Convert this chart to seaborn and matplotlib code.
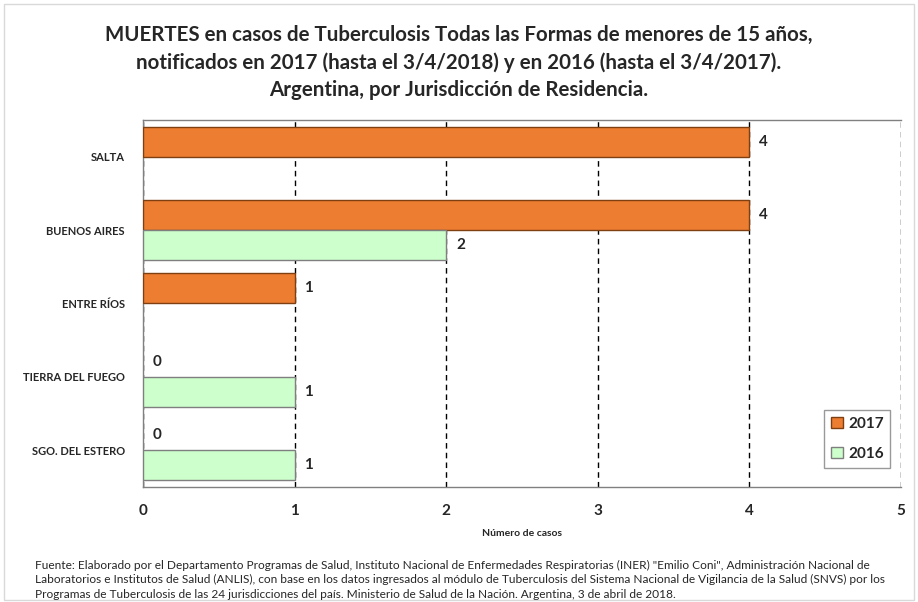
"""
Muertes por Tuberculosis en menores de 15 anios, 2017 vs 2016, por jurisdiccion.
"""

import pandas as pd
import numpy as np
import matplotlib
matplotlib.use("Agg")
import matplotlib.pyplot as plt
from matplotlib.patches import Rectangle
from matplotlib.ticker import FixedLocator
import seaborn as sns

# Data
jurisdicciones = ["SALTA", "BUENOS AIRES", "ENTRE RÍOS", "TIERRA DEL FUEGO", "SGO. DEL ESTERO"]
muertes_2017 = [4, 4, 1, 0, 0]
muertes_2016 = [np.nan, 2, np.nan, 1, 1]  # no bar / no label where missing
years = ["2017", "2016"]
colors = {"2017": "#ED7D31", "2016": "#CCFFCC"}
edges = {"2017": "#7F3F10", "2016": "#7F7F7F"}

title = ("MUERTES en casos de Tuberculosis Todas las Formas de menores de 15 años,\n"
         "notificados en 2017 (hasta el 3/4/2018) y en 2016 (hasta el 3/4/2017).\n"
         "Argentina, por Jurisdicción de Residencia.")
footnote = ("Fuente: Elaborado por el Departamento Programas de Salud, Instituto Nacional de Enfermedades Respiratorias (INER) \"Emilio Coni\", Administración Nacional de\n"
            "Laboratorios e Institutos de Salud (ANLIS), con base en los datos ingresados al módulo de Tuberculosis del Sistema Nacional de Vigilancia de la Salud (SNVS) por los\n"
            "Programas de Tuberculosis de las 24 jurisdicciones del país. Ministerio de Salud de la Nación. Argentina, 3 de abril de 2018.")

sns.set_style("white")
plt.rcParams['font.family'] = ['Lato', 'DejaVu Sans']

df = pd.DataFrame({
    "jurisdiccion": jurisdicciones * 2,
    "anio": [years[0]] * len(jurisdicciones) + [years[1]] * len(jurisdicciones),
    "muertes": muertes_2017 + muertes_2016,
})

fig = plt.figure(figsize=(9.18, 6.02), dpi=100)
ax = fig.add_axes([0.1558, 0.191, 0.8257, 0.6097])

sns.barplot(data=df, y="jurisdiccion", x="muertes", hue="anio", hue_order=years,
            order=jurisdicciones, orient="h", palette=colors, saturation=1,
            width=0.82, errorbar=None, ax=ax, legend=True, zorder=3)

for cont, yr in zip(ax.containers, years):
    for patch in cont:
        w = patch.get_width()
        patch.set_edgecolor(edges[yr])
        patch.set_linewidth(1.0 if (np.isfinite(w) and w > 0) else 0)
    ax.bar_label(cont, fmt="%d", padding=7, fontsize=11, fontweight="bold")

ax.set_xlim(0, 5)
ax.set_ylim(len(jurisdicciones) - 0.5, -0.5)
ax.set_xticks(range(6))
ax.set_xticklabels([str(i) for i in range(6)], fontsize=11, fontweight="bold")
ax.tick_params(axis="x", length=4, width=1, color="#808080", direction="out", pad=8)
ax.tick_params(axis="y", which="major", length=0, pad=13)
ax.yaxis.set_minor_locator(FixedLocator(np.arange(-0.5, len(jurisdicciones), 1)))
ax.tick_params(axis="y", which="minor", length=4, width=1, color="#808080", direction="out")
for lbl in ax.get_yticklabels():
    lbl.set_fontsize(8)
    lbl.set_fontweight("bold")

ax.xaxis.grid(True, linestyle=(0, (4, 3)), color="black", linewidth=1, zorder=1)
ax.yaxis.grid(False)
ax.set_axisbelow(True)
for side in ["left", "bottom", "top"]:
    ax.spines[side].set_color("#808080")
    ax.spines[side].set_linewidth(1)
ax.spines["right"].set_visible(False)

ax.set_ylabel("")
ax.set_xlabel("Número de casos", fontsize=7.5, fontweight="bold", labelpad=8)

leg = ax.legend(loc="lower right", bbox_to_anchor=(0.986, 0.052), borderaxespad=0,
                frameon=True, fancybox=False, edgecolor="#808080", fontsize=11,
                handlelength=0.75, handleheight=0.75, handletextpad=0.35,
                labelspacing=1.05, borderpad=0.45)
for txt in leg.get_texts():
    txt.set_fontweight("bold")
for h, yr in zip(leg.legend_handles, years):
    h.set_edgecolor(edges[yr])

fig.text(0.5, 0.958, title, ha="center", va="top", fontsize=14.8,
         fontweight="bold", linespacing=1.42)
fig.text(0.038, 0.004, footnote, ha="left", va="bottom", fontsize=8.6,
         linespacing=1.38)

fig.patches.append(Rectangle((0.004, 0.004), 0.992, 0.99, transform=fig.transFigure,
                             fill=False, edgecolor="#D9D9D9", linewidth=1))

plt.savefig("out.png", dpi=100)
plt.close()
